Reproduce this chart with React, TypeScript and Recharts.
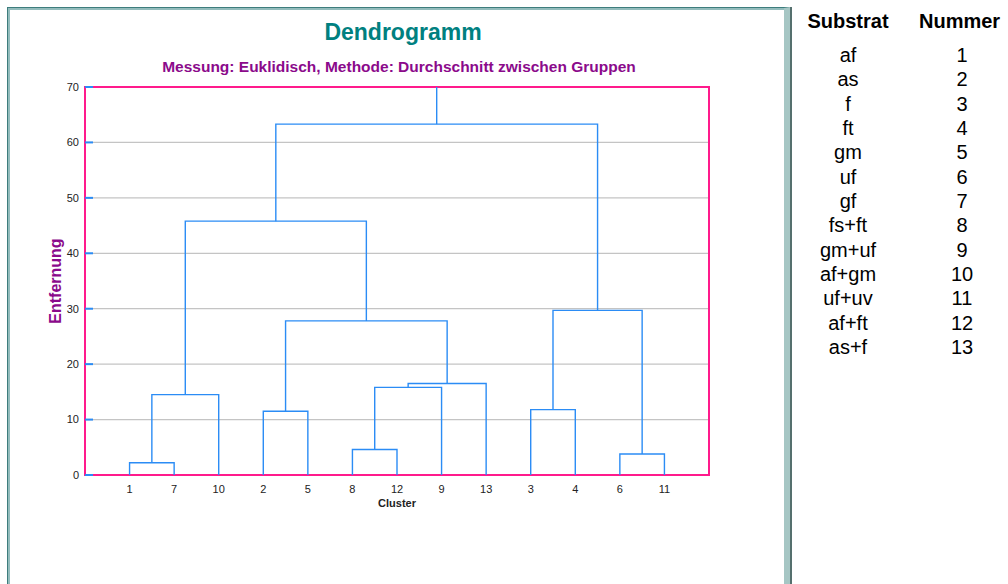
import React from "react";
import {
  CartesianGrid,
  Line,
  LineChart,
  ReferenceArea,
  XAxis,
  YAxis,
} from "recharts";

// Leaves in the order they sit on the x axis (position 1..13)
const leafOrder = [1, 7, 10, 2, 5, 8, 12, 9, 13, 3, 4, 6, 11];

// Agglomeration steps: "Lx" = leaf x, "Mi" = result of merge i
const mergeLeft = ["L1", "M0", "L2", "L8", "M3", "M4", "M2", "M1", "L3", "L6", "M8", "M7"];
const mergeRight = ["L7", "L10", "L5", "L12", "L9", "L13", "M5", "M6", "L4", "L11", "M9", "M10"];
const mergeHeight = [2.2, 14.5, 11.5, 4.6, 15.8, 16.5, 27.8, 45.8, 11.8, 3.8, 29.7, 63.3];

const yTicks = [0, 10, 20, 30, 40, 50, 60, 70];

const substrates = ["af", "as", "f", "ft", "gm", "uf", "gf", "fs+ft", "gm+uf", "af+gm", "uf+uv", "af+ft", "as+f"];
const numbers = [1, 2, 3, 4, 5, 6, 7, 8, 9, 10, 11, 12, 13];

type Pt = { x: number; y: number };

// build the bracket polylines from the merge table
function buildLinks(): Pt[][] {
  const pos: Record<string, Pt> = {};
  leafOrder.forEach((leaf, i) => {
    pos["L" + leaf] = { x: i + 1, y: 0 };
  });
  const links: Pt[][] = [];
  mergeHeight.forEach((h, i) => {
    const a = pos[mergeLeft[i]];
    const b = pos[mergeRight[i]];
    links.push([
      { x: a.x, y: a.y },
      { x: a.x, y: h },
      { x: b.x, y: h },
      { x: b.x, y: b.y },
    ]);
    pos["M" + i] = { x: (a.x + b.x) / 2, y: h };
  });
  const root = pos["M" + (mergeHeight.length - 1)];
  links.push([root, { x: root.x, y: yTicks[yTicks.length - 1] }]);
  return links;
}

const links = buildLinks();
const xTicks = leafOrder.map((_, i) => i + 1);

const BLUE = "#2b8cf5";
const PINK = "#ff1a8c";
const tickFont = { fill: "#222", fontSize: 11, fontFamily: "Liberation Sans, Arial, sans-serif" };

export default function App() {
  return (
    <div
      style={{
        position: "absolute",
        left: 0,
        top: 0,
        width: 1008,
        height: 584,
        overflow: "hidden",
        background: "#fff",
        fontFamily: "Liberation Sans, Arial, sans-serif",
      }}
    >
      <div
        style={{
          position: "absolute",
          left: 7,
          top: 7,
          width: 776,
          height: 620,
          borderTop: "1px solid #3d7d7d",
          borderLeft: "1px solid #3d7d7d",
          borderRight: "6px solid #a6c6c4",
          boxShadow: "inset 2px 2px 0 #93bcbc, 2px 0 0 #55706e",
        }}
      />
      <div
        style={{
          position: "absolute",
          left: 0,
          width: 806,
          top: 19,
          textAlign: "center",
          color: "#008080",
          fontWeight: "bold",
          fontSize: 23,
        }}
      >
        Dendrogramm
      </div>
      <div
        style={{
          position: "absolute",
          left: 0,
          width: 798,
          top: 58,
          textAlign: "center",
          color: "#8b0a8b",
          fontWeight: "bold",
          fontSize: 15.5,
        }}
      >
        Messung: Euklidisch, Methode: Durchschnitt zwischen Gruppen
      </div>

      <div style={{ position: "absolute", left: 0, top: 0 }}>
        <LineChart width={790} height={584} margin={{ top: 87, right: 80, left: 0, bottom: 75 }}>
          <CartesianGrid vertical={false} stroke="#c4c4c4" strokeWidth={1.2} />
          <XAxis
            type="number"
            dataKey="x"
            domain={[0, leafOrder.length + 1]}
            ticks={xTicks}
            tickFormatter={(v: number) => String(leafOrder[v - 1] ?? "")}
            axisLine={false}
            tickLine={false}
            tick={tickFont}
            tickMargin={4}
            height={34}
            interval={0}
            label={{
              value: "Cluster",
              position: "insideBottom",
              offset: 2,
              style: { fontSize: 11, fontWeight: "bold", fill: "#222" },
            }}
          />
          <YAxis
            type="number"
            dataKey="y"
            domain={[0, 70]}
            ticks={yTicks}
            width={85}
            axisLine={false}
            tickLine={{ stroke: BLUE, strokeWidth: 2 }}
            tickSize={-8}
            tickMargin={14}
            tick={tickFont}
            label={{
              value: "Entfernung",
              angle: -90,
              position: "insideLeft",
              offset: 55,
              style: { textAnchor: "middle", fontSize: 16, fontWeight: "bold", fill: "#8b0a8b" },
            }}
          />
          <YAxis
            yAxisId="right"
            orientation="right"
            type="number"
            domain={[0, 70]}
            ticks={yTicks}
            width={1}
            axisLine={false}
            tickLine={{ stroke: BLUE, strokeWidth: 2 }}
            tickSize={-8}
            tickFormatter={() => ""}
          />
          {links.map((pts, i) => (
            <Line
              key={i}
              data={pts}
              dataKey="y"
              type="linear"
              stroke={BLUE}
              strokeWidth={1.4}
              dot={false}
              activeDot={false}
              isAnimationActive={false}
            />
          ))}
          <ReferenceArea
            x1={0}
            x2={leafOrder.length + 1}
            y1={0}
            y2={70}
            fill="none"
            fillOpacity={0}
            stroke={PINK}
            strokeWidth={2}
            ifOverflow="visible"
          />
        </LineChart>
      </div>

      <div style={{ position: "absolute", left: 798, top: 8, width: 240, color: "#000" }}>
        <div style={{ display: "flex", fontWeight: "bold", fontSize: 20, lineHeight: "26px" }}>
          <div style={{ width: 100, flexShrink: 0, textAlign: "center" }}>Substrat</div>
          <div style={{ width: 121, flexShrink: 0, paddingLeft: 21, boxSizing: "border-box" }}>Nummer</div>
        </div>
        <div style={{ marginTop: 9, fontSize: 20, lineHeight: "24.35px" }}>
          {substrates.map((s, i) => (
            <div key={s} style={{ display: "flex" }}>
              <div style={{ width: 100, flexShrink: 0, textAlign: "center" }}>{s}</div>
              <div style={{ width: 128, flexShrink: 0, textAlign: "center" }}>{numbers[i]}</div>
            </div>
          ))}
        </div>
      </div>
    </div>
  );
}
